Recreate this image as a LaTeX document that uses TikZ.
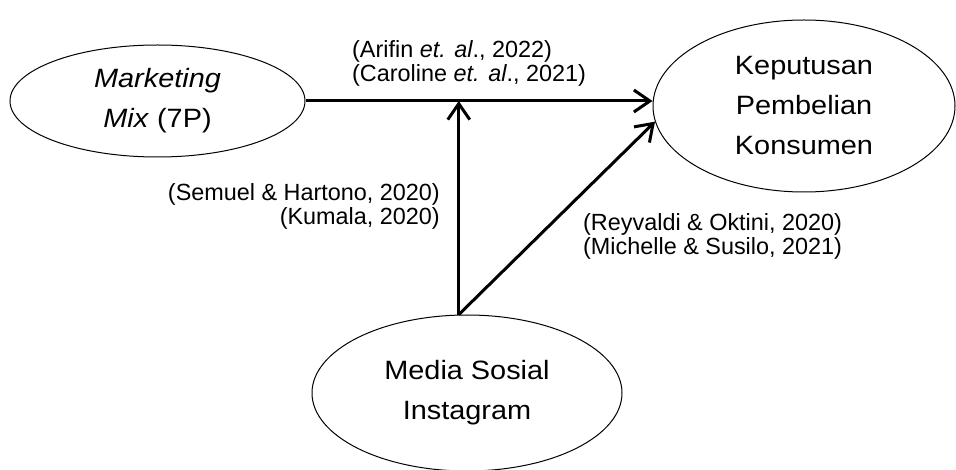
\documentclass[tikz,border=0pt]{standalone}
\usepackage{fontspec}
\setmainfont{Liberation Sans}
\newfontfamily\widefont{Liberation Sans}[FakeStretch=1.09]
\usepackage{tikz}
\usetikzlibrary{positioning}
\usetikzlibrary{arrows.meta,shapes}

\begin{document}
\begin{tikzpicture}[x=1pt,y=-1pt,
    var/.style={ellipse,draw,line width=1pt,inner sep=0pt,align=center,
                font=\widefont\fontsize{26.5}{40}\selectfont},
    ref/.style={inner sep=0pt,font=\fontsize{23.4}{24}\selectfont},
    link/.style={line width=3pt,-{Straight Barb[length=16pt,width=22pt]}}]
  \useasboundingbox (0,0) rectangle (956,470);
  \node[var,minimum width=295pt,minimum height=112pt] (mm) at (157.5,101) {\textit{Marketing}\\\textit{Mix} (7P)};
  \node[var,minimum width=302pt,minimum height=172pt] (kpk) at (804,106) {Keputusan\\Pembelian\\Konsumen};
  \node[var,minimum width=310pt,minimum height=156pt] (msi) at (467,393) {Media Sosial\\Instagram};
  \coordinate (j) at (msi.96 |- mm);
  \path[link] (mm) edge (mm -| kpk.west);
  \path[link] (msi.96) edge (j);
  \path[link] (msi.96) edge (kpk.186);
  \node[ref,align=left,anchor=north west] (r1) at (352,40.2) {(Arifin \textit{et. al}., 2022)\\(Caroline \textit{et. al}., 2021)};
  \node[ref,align=right,anchor=north east] (r2) at (440,183.2) {(Semuel \& Hartono, 2020)\\(Kumala, 2020)};
  \node[ref,align=left,anchor=north west] (r3) at (583,213.2) {(Reyvaldi \& Oktini, 2020)\\(Michelle \& Susilo, 2021)};
\end{tikzpicture}
\end{document}
